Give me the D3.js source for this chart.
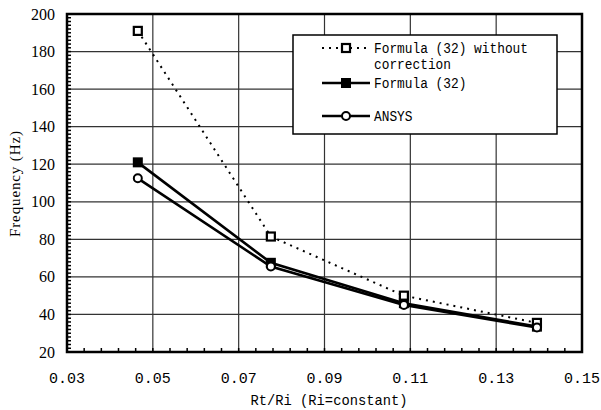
<!DOCTYPE html>
<html>
<head>
  <meta charset="utf-8">
  <title>Frequency vs Rt/Ri</title>
  <script src="https://d3js.org/d3.v7.min.js"></script>
  <style>
    html, body { margin: 0; background: #fff; }
    svg { display: block; }
    .mono { font-family: 'Liberation Mono', monospace; }
    .serif { font-family: 'Liberation Serif', serif; }
  </style>
</head>
<body>
  <svg id="chart" width="601" height="410"></svg>
  <script>
  // data
  const ratios = [0.0465, 0.0775, 0.1085, 0.1395];
  const noCorrection = [191, 81.5, 50, 35.5];
  const formula32 = [121, 67.5, 46, 33.5];
  const ansys = [112.5, 65.5, 45, 33];

  const xTicks = [0.03, 0.05, 0.07, 0.09, 0.11, 0.13, 0.15];
  const yTicks = [20, 40, 60, 80, 100, 120, 140, 160, 180, 200];

  const legendLabels = [["Formula (32) without", "correction"], ["Formula (32)"], ["ANSYS"]];

  const svg = d3.select("#chart");
  const plotL = 67, plotR = 582, plotT = 14, plotB = 352;

  const x = d3.scaleLinear().domain([0.03, 0.15]).range([plotL, plotR]);
  const y = d3.scaleLinear().domain([20, 200]).range([plotB, plotT]);

  // grid
  svg.append("g").selectAll("line")
    .data(yTicks.slice(1, -1))
    .join("line")
    .attr("x1", plotL).attr("x2", plotR)
    .attr("y1", d => y(d)).attr("y2", d => y(d))
    .attr("stroke", "#333").attr("stroke-width", 1.2);
  svg.append("g").selectAll("line")
    .data(xTicks.slice(1, -1))
    .join("line")
    .attr("y1", plotT).attr("y2", plotB)
    .attr("x1", d => x(d)).attr("x2", d => x(d))
    .attr("stroke", "#333").attr("stroke-width", 1.2);

  // minor ticks, pointing inward
  svg.append("g").selectAll("line")
    .data(d3.range(22, 200, 2))
    .join("line")
    .attr("x1", plotL).attr("x2", plotL + 4)
    .attr("y1", d => y(d)).attr("y2", d => y(d))
    .attr("stroke", "#000").attr("stroke-width", 1.5);
  svg.append("g").selectAll("line")
    .data(d3.range(1, 30).map(i => 0.03 + i * 0.004))
    .join("line")
    .attr("y1", plotB).attr("y2", plotB - 4)
    .attr("x1", d => x(d)).attr("x2", d => x(d))
    .attr("stroke", "#000").attr("stroke-width", 1.5);

  // frame
  svg.append("rect")
    .attr("x", plotL).attr("y", plotT)
    .attr("width", plotR - plotL).attr("height", plotB - plotT)
    .attr("fill", "none").attr("stroke", "#000").attr("stroke-width", 2.5);

  // tick labels
  svg.append("g").selectAll("text")
    .data(yTicks)
    .join("text")
    .attr("class", "serif")
    .attr("x", 55).attr("y", d => y(d) + 5.5)
    .attr("text-anchor", "end")
    .attr("font-size", 16)
    .text(d => d);
  svg.append("g").selectAll("text")
    .data(xTicks)
    .join("text")
    .attr("class", "mono")
    .attr("x", d => x(d)).attr("y", 383)
    .attr("text-anchor", "middle")
    .attr("font-size", 15)
    .text(d => d.toFixed(2));

  // axis titles
  svg.append("text")
    .attr("class", "mono")
    .attr("x", 329).attr("y", 405)
    .attr("text-anchor", "middle")
    .attr("font-size", 15)
    .attr("textLength", 157).attr("lengthAdjust", "spacingAndGlyphs")
    .text("Rt/Ri (Ri=constant)");
  svg.append("text")
    .attr("class", "serif")
    .attr("transform", "translate(20,184) rotate(-90)")
    .attr("text-anchor", "middle")
    .attr("font-size", 15)
    .attr("textLength", 106).attr("lengthAdjust", "spacing")
    .text("Frequency (Hz)");

  // series
  const line = d3.line().x(d => x(d[0])).y(d => y(d[1]));
  const pts = vals => ratios.map((r, i) => [r, vals[i]]);

  svg.append("path")
    .datum(pts(noCorrection))
    .attr("d", line)
    .attr("fill", "none").attr("stroke", "#000")
    .attr("stroke-width", 2).attr("stroke-dasharray", "2,5");
  svg.append("path")
    .datum(pts(formula32))
    .attr("d", line)
    .attr("fill", "none").attr("stroke", "#000").attr("stroke-width", 2.6);
  svg.append("path")
    .datum(pts(ansys))
    .attr("d", line)
    .attr("fill", "none").attr("stroke", "#000").attr("stroke-width", 2.6);

  function openSquare(g, cx, cy) {
    g.append("rect").attr("x", cx - 4).attr("y", cy - 4)
      .attr("width", 8).attr("height", 8)
      .attr("fill", "#fff").attr("stroke", "#000").attr("stroke-width", 2.2);
  }
  function filledSquare(g, cx, cy) {
    g.append("rect").attr("x", cx - 5).attr("y", cy - 5)
      .attr("width", 10).attr("height", 10).attr("fill", "#000");
  }
  function openCircle(g, cx, cy) {
    g.append("circle").attr("cx", cx).attr("cy", cy).attr("r", 4)
      .attr("fill", "#fff").attr("stroke", "#000").attr("stroke-width", 2);
  }

  const marks = svg.append("g");
  pts(formula32).forEach(p => filledSquare(marks, x(p[0]), y(p[1])));
  pts(noCorrection).forEach(p => openSquare(marks, x(p[0]), y(p[1])));
  pts(ansys).forEach(p => openCircle(marks, x(p[0]), y(p[1])));

  // legend
  const lg = svg.append("g");
  lg.append("rect")
    .attr("x", 293).attr("y", 35).attr("width", 264).attr("height", 99)
    .attr("fill", "#fff").attr("stroke", "#000").attr("stroke-width", 1.5);

  const rowY = [48, 83, 116];
  lg.append("line").attr("x1", 322).attr("x2", 370).attr("y1", rowY[0]).attr("y2", rowY[0])
    .attr("stroke", "#000").attr("stroke-width", 2).attr("stroke-dasharray", "2,5");
  openSquare(lg, 346, rowY[0]);
  lg.append("line").attr("x1", 322).attr("x2", 370).attr("y1", rowY[1]).attr("y2", rowY[1])
    .attr("stroke", "#000").attr("stroke-width", 2.4);
  filledSquare(lg, 346, rowY[1]);
  lg.append("line").attr("x1", 322).attr("x2", 370).attr("y1", rowY[2]).attr("y2", rowY[2])
    .attr("stroke", "#000").attr("stroke-width", 2.4);
  openCircle(lg, 346, rowY[2]);

  legendLabels.forEach((lines, i) => {
    lines.forEach((t, j) => {
      lg.append("text")
        .attr("class", "mono")
        .attr("x", 374).attr("y", rowY[i] + 5 + j * 16)
        .attr("font-size", 14)
        .attr("textLength", t.length * 7.7).attr("lengthAdjust", "spacingAndGlyphs")
        .text(t);
    });
  });
  </script>
</body>
</html>
